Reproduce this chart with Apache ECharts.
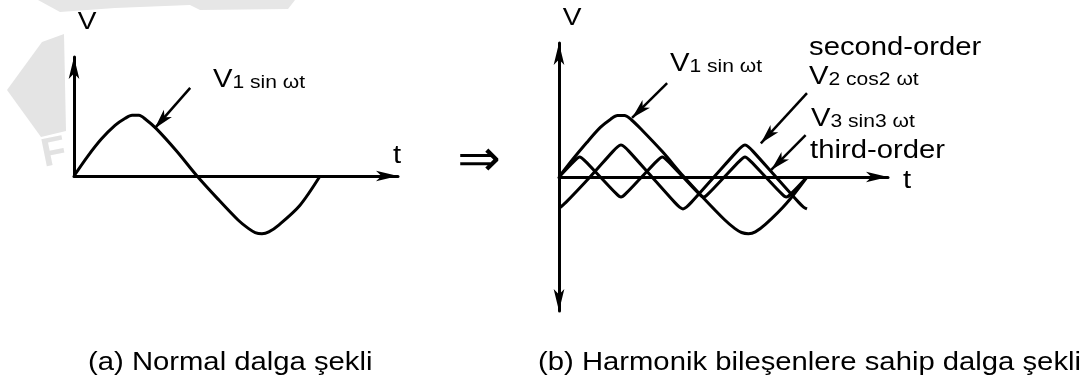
<!DOCTYPE html>
<html>
<head>
<meta charset="utf-8">
<script src="https://cdn.jsdelivr.net/npm/echarts@6/dist/echarts.min.js"></script>
<style>
  html, body { margin: 0; padding: 0; background: #fff; }
  #chart { width: 1086px; height: 385px; }
</style>
</head>
<body>
<div id="chart"></div>
<script>
// x = ωt in degrees, y = voltage in units of V1
// (a) normal wave
const leftX = [0, 20, 40, 60, 75, 85, 95, 105, 120, 150, 180, 210, 240, 255, 265, 275, 285, 300, 330, 360]
const leftV1 = [0, 0.33, 0.62, 0.85, 0.97, 1.02, 1.02, 0.95, 0.8, 0.42, 0, -0.38, -0.74, -0.88, -0.95, -0.97, -0.94, -0.82, -0.5, 0]

// (b) fundamental + harmonics
const rightX1 = [0, 20, 40, 60, 75, 85, 95, 105, 120, 150, 180, 210, 240, 255, 265, 275, 285, 300, 330, 360]
const rightV1 = [0, 0.3, 0.58, 0.84, 0.98, 1.04, 1.04, 0.97, 0.8, 0.43, 0.02, -0.36, -0.72, -0.87, -0.94, -0.96, -0.93, -0.8, -0.45, 0]

const rightX2 = [0, 10, 45, 78, 85, 90, 95, 102, 135, 168, 175, 180, 185, 192, 225, 258, 265, 270, 275, 282, 315, 348, 355, 360]
const rightV2 = [-0.53, -0.43, 0, 0.43, 0.51, 0.54, 0.51, 0.43, 0, -0.43, -0.51, -0.54, -0.51, -0.43, 0, 0.43, 0.51, 0.54, 0.51, 0.43, 0, -0.43, -0.51, -0.54]

const rightX3 = [0, 22, 30, 38, 60, 82, 90, 98, 120, 142, 150, 158, 180, 202, 210, 218, 240, 262, 270, 278, 300, 322, 330, 338, 360]
const rightV3 = [0, 0.27, 0.34, 0.27, 0, -0.27, -0.34, -0.27, 0, 0.27, 0.34, 0.27, 0, -0.27, -0.34, -0.27, 0, 0.27, 0.34, 0.27, 0, -0.27, -0.34, -0.27, 0]

// annotation arrows [from, to] in data coords
const leftArrow = [[170, 1.48], [118, 0.8]]
const rightArrows = [
  [[157, 1.59], [106, 1.0]],
  [[360, 1.42], [293, 0.57]],
  [[358, 0.71], [308, 0.12]]
]

const captions = ['(a) Normal dalga şekli', '(b) Harmonik bileşenlere sahip dalga şekli']

const pairs = (xs, ys) => xs.map((x, i) => [x, ys[i]])

const black = '#000'
const stretch = 1.17 // the scan is a bit wider than it is tall
const axisLine = (sym) => ({
  show: true,
  symbol: sym,
  symbolSize: [8, 22],
  lineStyle: { color: black, width: 3 }
})
const bareAxis = (extra) => Object.assign({
  type: 'value',
  axisTick: { show: false },
  axisLabel: { show: false },
  splitLine: { show: false }
}, extra)

const wave = (grid, data) => ({
  type: 'line',
  xAxisIndex: grid,
  yAxisIndex: grid,
  data: data,
  showSymbol: false,
  smooth: 0.3,
  clip: false,
  silent: true,
  lineStyle: { color: black, width: 3, join: 'round' }
})

const arrowMark = (list) => ({
  silent: true,
  symbol: ['none', 'arrow'],
  symbolSize: [8, 20],
  label: { show: false },
  lineStyle: { color: black, width: 2.5, type: 'solid' },
  data: list.map(a => [{ coord: a[0] }, { coord: a[1] }])
})

const series = [
  wave(0, pairs(leftX, leftV1)),
  wave(1, pairs(rightX1, rightV1)),
  wave(1, pairs(rightX2, rightV2)),
  wave(1, pairs(rightX3, rightV3))
]
series[0].markLine = arrowMark([leftArrow])
series[1].markLine = arrowMark(rightArrows)

const txt = (x, y, text, size, extra) => ({
  type: 'text', x: x, y: y, scaleX: stretch, silent: true,
  style: Object.assign({
    text: text,
    fill: black,
    textVerticalAlign: 'middle',
    font: size + 'px "Liberation Sans", Arial, sans-serif'
  }, extra)
})
const richV = (x, y, big, small) => ({
  type: 'text', x: x, y: y, scaleX: stretch, silent: true,
  style: {
    text: '{a|' + big + '}{b|' + small + '}',
    textVerticalAlign: 'middle',
    rich: {
      a: { fontSize: 25, fontFamily: 'Liberation Sans', color: black, verticalAlign: 'bottom', lineHeight: 25 },
      b: { fontSize: 18, fontFamily: 'Liberation Sans', color: black, verticalAlign: 'bottom', lineHeight: 19 }
    }
  }
})

const chart = echarts.init(document.getElementById('chart'))
chart.setOption({
  animation: false,
  backgroundColor: '#fff',
  grid: [
    { left: 74, top: 57, width: 324, height: 119 },
    { left: 559, top: 43, width: 329, height: 268 }
  ],
  xAxis: [
    bareAxis({ gridIndex: 0, min: 0, max: 474, axisLine: axisLine(['none', 'arrow']) }),
    bareAxis({ gridIndex: 1, min: 0, max: 477.6, axisLine: axisLine(['none', 'arrow']) })
  ],
  yAxis: [
    bareAxis({ gridIndex: 0, min: 0, max: 2.0, axisLine: axisLine(['none', 'arrow']) }),
    bareAxis({ gridIndex: 1, min: -2.27, max: 2.27, axisLine: axisLine(['arrow', 'arrow']) })
  ],
  graphic: [
    // faint watermark
    { type: 'polygon', z: -10, silent: true, shape: { points: [[7, 90], [42, 42], [64, 34], [66, 131], [41, 137]] }, style: { fill: '#e4e4e4' } },
    { type: 'polygon', z: -10, silent: true, shape: { points: [[38, 0], [295, 0], [288, 9], [200, 10], [190, 5], [115, 8], [60, 12]] }, style: { fill: '#e6e6e6' } },
    { type: 'text', x: 42, y: 156, rotation: 0.2, silent: true, z: -10,
      style: { text: 'F', fill: '#e2e2e2', font: 'bold 40px "Liberation Sans"', textVerticalAlign: 'middle' } },
    // axis names
    txt(87, 22, 'V', 24, { textAlign: 'center' }),
    txt(397, 156, 't', 25, { textAlign: 'center' }),
    txt(572, 18, 'V', 24, { textAlign: 'center' }),
    txt(907, 181, 't', 25, { textAlign: 'center' }),
    // arrow between panels
    { type: 'text', x: 479, y: 162, silent: true,
      style: { text: '⇒', fill: black, font: '52px "DejaVu Sans"', textAlign: 'center', textVerticalAlign: 'middle' } },
    // curve labels
    richV(213, 80, 'V', '1 sin ωt'),
    richV(670, 64, 'V', '1 sin ωt'),
    txt(809, 48, 'second-order', 25),
    richV(809, 77, 'V', '2 cos2 ωt'),
    richV(811, 119, 'V', '3 sin3 ωt'),
    txt(810, 151, 'third-order', 25),
    // captions
    txt(88, 363, captions[0], 25),
    txt(538, 363, captions[1], 25)
  ],
  series: series
})
</script>
</body>
</html>
